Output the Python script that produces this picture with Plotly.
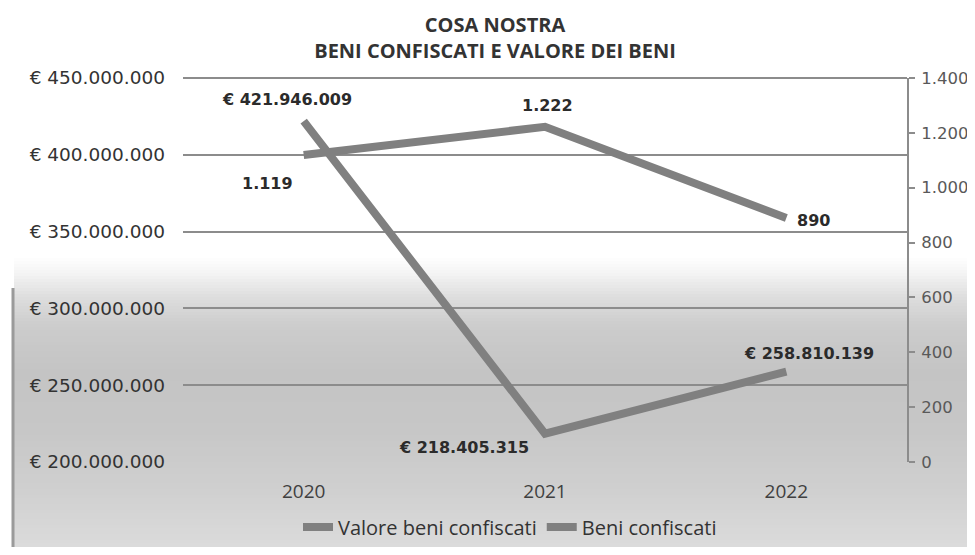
import plotly.graph_objects as go

# ---- data ----
years = ["2020", "2021", "2022"]
valore_beni = [421946009, 218405315, 258810139]
beni_confiscati = [1119, 1222, 890]
valore_labels = ["€ 421.946.009", "€ 218.405.315", "€ 258.810.139"]
beni_labels = ["1.119", "1.222", "890"]

OFF = 8  # page body margin offset
W, H = 975 - OFF, 555 - 2 * OFF
ML, MR, MT = 183 - OFF, 68, 78 - OFF
MB = H - (462 - OFF)
PW, PH = W - ML - MR, H - MT - MB

def px_x(px):  # px in screenshot coords
    return (px - OFF - ML) / PW

def px_y(py):
    return (H - MB - (py - OFF)) / PH

LINE_COL = "#808080"
GRID_COL = "#8c8c8c"
NUM_FONT = "DejaVu Sans"
TXT_FONT = "Open Sans"

fig = go.Figure()
fig.add_trace(go.Scatter(
    x=years, y=valore_beni, name="Valore beni confiscati", mode="lines",
    line=dict(color=LINE_COL, width=8), yaxis="y2", hoverinfo="skip"))
fig.add_trace(go.Scatter(
    x=years, y=beni_confiscati, name="Beni confiscati", mode="lines",
    line=dict(color=LINE_COL, width=8), yaxis="y", hoverinfo="skip"))

# background gradient (style only)
stops = [(255, 255), (272, 244), (295, 222), (325, 204), (370, 196),
         (430, 199), (490, 208), (555, 221)]
shapes = []
step = 3
py = 255
while py < 560:
    g = stops[-1][1]
    for i in range(len(stops) - 1):
        if stops[i][0] <= py <= stops[i + 1][0]:
            a, b = stops[i], stops[i + 1]
            t = (py - a[0]) / (b[0] - a[0])
            g = int(round(a[1] + t * (b[1] - a[1])))
            break
    col = f"rgb({g},{g},{g})"
    shapes.append(dict(type="rect", xref="paper", yref="paper",
                       x0=px_x(14), x1=px_x(990), y0=px_y(py + step + 0.5), y1=px_y(py),
                       fillcolor=col, line=dict(width=0), layer="below"))
    py += step
shapes.append(dict(type="line", xref="paper", yref="paper",
                   x0=px_x(13), x1=px_x(13), y0=px_y(288), y1=px_y(570),
                   line=dict(color="#9a9a9a", width=3), layer="below"))
# top gridline (plot edge)
shapes.append(dict(type="line", xref="paper", yref="paper", x0=0, x1=1, y0=1, y1=1,
                   line=dict(color=GRID_COL, width=2), layer="below"))

# data labels via annotations (x = category index)
ann = []
val_shifts = [(-17, 22), (-81, -14), (23, 18)]
beni_shifts = [(-36, -28), (2, 21), (27, -3)]
for i, (yv, tx, (dx, dy)) in enumerate(zip(valore_beni, valore_labels, val_shifts)):
    ann.append(dict(x=i, y=yv, xref="x", yref="y2", text="<b>" + tx + "</b>",
                    showarrow=False, xshift=dx, yshift=dy,
                    font=dict(family=NUM_FONT, size=16, color="#2b2b2b")))
for i, (yv, tx, (dx, dy)) in enumerate(zip(beni_confiscati, beni_labels, beni_shifts)):
    ann.append(dict(x=i, y=yv, xref="x", yref="y", text="<b>" + tx + "</b>",
                    showarrow=False, xshift=dx, yshift=dy,
                    font=dict(family=NUM_FONT, size=16, color="#2b2b2b")))

fig.update_layout(
    width=W, height=H,
    margin=dict(l=ML, r=MR, t=MT, b=MB, autoexpand=False),
    paper_bgcolor="white", plot_bgcolor="rgba(0,0,0,0)",
    separators=",.",
    title=dict(text="<b>COSA NOSTRA<br>BENI CONFISCATI E VALORE DEI BENI</b>",
               x=(495 - OFF) / W, xanchor="center", xref="container",
               y=1 - 24 / H, yanchor="top", yref="container",
               font=dict(family=TXT_FONT, size=20, color="#333333")),
    xaxis=dict(type="category", range=[-0.5, 2.5], showgrid=False, showline=False,
               ticks="", ticklabelstandoff=16,
               tickfont=dict(family=TXT_FONT, size=19, color="#404040")),
    yaxis=dict(side="right", range=[0, 1400], dtick=200, tickformat=",d",
               showgrid=False, zeroline=False, showline=True, linecolor=GRID_COL,
               linewidth=2, ticks="outside", ticklen=6, tickcolor=GRID_COL, tickwidth=2,
               ticklabelstandoff=3,
               tickfont=dict(family=NUM_FONT, size=16.5, color="#595959")),
    yaxis2=dict(side="left", overlaying="y", range=[200000000, 450000000],
                dtick=50000000, tickformat=",d", tickprefix="€ ",
                showgrid=True, gridcolor=GRID_COL, gridwidth=2, zeroline=False,
                showline=False, ticks="", ticklabelstandoff=17,
                tickfont=dict(family=NUM_FONT, size=18.5, color="#333333")),
    legend=dict(orientation="h", x=px_x(510), xanchor="center", y=px_y(527),
                yanchor="middle", bgcolor="rgba(0,0,0,0)",
                font=dict(family=TXT_FONT, size=20, color="#333333"),
                itemwidth=30),
    shapes=shapes,
    annotations=ann,
    showlegend=True,
)

fig.write_html("out.html")
